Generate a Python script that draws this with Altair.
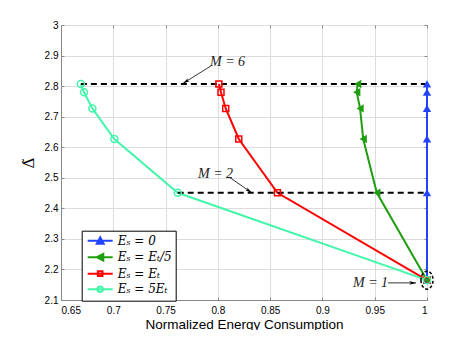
import math
import altair as alt
import pandas as pd

# ---------------- data ----------------
M_values = [1, 2, 3, 4, 5, 6]
delta_values = [2.165, 2.451, 2.627, 2.727, 2.780, 2.807]

series_labels = ["Eₛ = 0", "Eₛ = Eₜ/5", "Eₛ = Eₜ", "Eₛ = 5Eₜ"]
x_blue = [1.0, 1.0, 1.0, 1.0, 1.0, 1.0]
x_green = [1.0, 0.952, 0.939, 0.936, 0.9328, 0.9337]
x_red = [1.0, 0.857, 0.820, 0.8075, 0.803, 0.801]
x_teal = [1.0, 0.7616, 0.701, 0.680, 0.672, 0.669]

x_ticks = [0.65, 0.7, 0.75, 0.8, 0.85, 0.9, 0.95, 1.0]
y_ticks = [2.1, 2.2, 2.3, 2.4, 2.5, 2.6, 2.7, 2.8, 2.9, 3.0]

# dashed guide lines for M = 6 and M = 2
guide_M = [6, 2]

# annotations
ann_text = ["M = 6", "M = 2", "M = 1"]
ann_tx = [0.7925, 0.781, 0.9292]
ann_ty = [2.879, 2.512, 2.156]
arr_x0 = [0.7934, 0.8107, 0.9627]
arr_y0 = [2.866, 2.5026, 2.156]
arr_x1 = [0.7667, 0.8324, 0.9895]
arr_y1 = [2.809, 2.451, 2.156]

# ---------------- styles ----------------
colors = ["#2244ff", "#1f9e10", "#ff0000", "#44f5aa"]
fills = ["#2244ff", "#1f9e10", "transparent", "transparent"]
marker_shapes = ["triangle-up", "triangle-left", "square", "circle"]
marker_sizes = [70, 70, 36, 50]
marker_filled = [True, True, False, False]
# legend glyphs: a 25px line with the marker in its middle (units of 4px)
legend_shapes = [
    "M-1,0L5.25,0M2.125,-0.85L3.0,0.75L1.25,0.75Z",
    "M-1,0L5.25,0M1.3,0L2.9,-0.85L2.9,0.85Z",
    "M-1,0L5.25,0M1.55,-0.6L2.7,-0.6L2.7,0.6L1.55,0.6Z",
    "M-1,0L5.25,0M1.425,0A0.7,0.7,0,1,0,2.825,0A0.7,0.7,0,1,0,1.425,0Z",
]

W, H = 366, 275
XD = [0.65, 1.0]
YD = [2.1, 3.0]

# ---------------- tables ----------------
xs_all = [x_blue, x_green, x_red, x_teal]
rows = []
for lab, xv in zip(series_labels, xs_all):
    for m, x, y in zip(M_values, xv, delta_values):
        rows.append({"series": lab, "M": m, "x": x, "y": y})
df = pd.DataFrame(rows)

guide_rows = []
for m in guide_M:
    i = M_values.index(m)
    guide_rows.append({"x": min(xv[i] for xv in xs_all), "x2": max(xv[i] for xv in xs_all), "y": delta_values[i]})
guides = pd.DataFrame(guide_rows)

ann_rows = []
for t, tx, ty, x0, y0, x1, y1 in zip(ann_text, ann_tx, ann_ty, arr_x0, arr_y0, arr_x1, arr_y1):
    dx = (x1 - x0) * W / (XD[1] - XD[0])
    dy = -(y1 - y0) * H / (YD[1] - YD[0])
    ang = math.degrees(math.atan2(dx, -dy)) % 360
    ann_rows.append({"t": t, "tx": tx, "ty": ty, "x": x0, "y": y0, "x1": x1, "y1": y1, "ang": ang})
ann = pd.DataFrame(ann_rows)

ellipse = pd.DataFrame({"x": [x_blue[0]], "y": [delta_values[0]]})

# ---------------- scales / axes ----------------
xs = alt.Scale(domain=XD, nice=False, zero=False)
ys = alt.Scale(domain=YD, nice=False, zero=False)
cscale = alt.Scale(domain=series_labels, range=colors)

axis_main_x = alt.Axis(values=x_ticks, format=".2~f", grid=True, ticks=False, tickSize=0,
                       labelPadding=5, title="Normalized Energy Consumption", titlePadding=2,
                       titleFontWeight="normal", titleFontSize=13.5, titleFont="Liberation Sans")
axis_main_y = alt.Axis(values=y_ticks, format=".1~f", grid=True, ticks=False, tickSize=0,
                       labelPadding=3, title="Δ̃", titlePadding=8, titleFontSize=15,
                       titleFont="DejaVu Serif", titleFontWeight="normal")


def tick_axis(values, orient):
    return alt.Axis(values=values, orient=orient, labels=False, domain=False, grid=False,
                    ticks=True, tickSize=3, offset=-3, title=None)


X = lambda ax: alt.X("x:Q", scale=xs, axis=ax)
Y = lambda ax: alt.Y("y:Q", scale=ys, axis=ax)

legend_def = alt.Legend(
    orient="none", legendX=20.7, legendY=205.7, title=None,
    strokeColor="black", fillColor="white", padding=4, rowPadding=1.5,
    symbolSize=64, symbolStrokeWidth=2, symbolOpacity=1, labelFont="DejaVu Serif",
    labelFontStyle="italic", labelFontSize=12, labelOffset=20, labelColor="black")

lines = alt.Chart(df).mark_line(strokeWidth=2).encode(
    x=X(axis_main_x), y=Y(axis_main_y),
    color=alt.Color("series:N", scale=cscale, legend=legend_def),
    detail="series:N",
    order=alt.Order("M:Q"),
)

dashes = alt.Chart(guides).mark_rule(color="black", strokeWidth=2, strokeDash=[6, 4]).encode(
    x=X(tick_axis(x_ticks, "top")), x2="x2:Q", y=Y(tick_axis(y_ticks, "right"))
)

point_layers = []
for i, lab in enumerate(series_labels):
    if i == 0:
        ax_x, ax_y = tick_axis(x_ticks, "bottom"), tick_axis(y_ticks, "left")
    else:
        ax_x, ax_y = None, None
    point_layers.append(
        alt.Chart(df).transform_filter(alt.datum.series == lab).mark_point(
            shape=marker_shapes[i], size=marker_sizes[i], filled=marker_filled[i],
            color=colors[i], strokeWidth=1.5, opacity=1
        ).encode(x=X(ax_x), y=Y(ax_y))
    )

legend_layer = alt.Chart(df).transform_filter(alt.datum.M == 1).mark_point(
    filled=False, strokeWidth=2, size=0, opacity=1
).encode(
    x=X(None), y=Y(None),
    color=alt.Color("series:N", scale=cscale, legend=legend_def),
    fill=alt.Fill("series:N", scale=alt.Scale(domain=series_labels, range=fills), legend=legend_def),
    shape=alt.Shape("series:N", scale=alt.Scale(domain=series_labels, range=legend_shapes), legend=legend_def),
)

arrows = alt.Chart(ann).mark_rule(color="black", strokeWidth=0.8).encode(
    x=X(None), y=Y(None), x2="x1:Q", y2="y1:Q"
)

heads = alt.Chart(ann).mark_point(
    shape="M0,0L0.45,1.7L0,1.25L-0.45,1.7Z", size=64, filled=True, color="black", opacity=1
).encode(
    x=alt.X("x1:Q", scale=xs, axis=None), y=alt.Y("y1:Q", scale=ys, axis=None),
    angle=alt.Angle("ang:Q", scale=None),
)

texts = alt.Chart(ann).mark_text(
    align="left", baseline="middle", font="Liberation Serif", fontStyle="italic",
    fontSize=14, color="#222"
).encode(
    x=alt.X("tx:Q", scale=xs, axis=None), y=alt.Y("ty:Q", scale=ys, axis=None), text="t:N"
)

ell = alt.Chart(ellipse).mark_point(
    shape="M-0.67,0A0.67,1,0,1,0,0.67,0A0.67,1,0,1,0,-0.67,0", size=324,
    filled=False, color="black", strokeWidth=1.5, strokeDash=[3, 2], opacity=1
).encode(x=X(None), y=Y(None))

chart = alt.layer(
    lines, dashes, *point_layers, legend_layer, arrows, heads, texts, ell
).resolve_axis(x="independent", y="independent").properties(
    width=W, height=H,
    autosize=alt.AutoSizeParams(type="none"),
    padding={"left": 53, "top": 17, "right": 28, "bottom": 30},
).configure_view(stroke="#333", strokeWidth=1).configure_axis(
    labelFont="Liberation Sans", labelFontSize=11.5, labelColor="black",
    titleFont="Liberation Sans", titleFontSize=13, titleFontWeight="normal", titleColor="black",
    domainColor="#333", tickColor="#333",
    gridColor="#b0b0b0", gridDash=[1, 3], gridWidth=1,
).configure(background="white")

chart.save("out.html", embed_options={"renderer": "svg", "actions": False})
